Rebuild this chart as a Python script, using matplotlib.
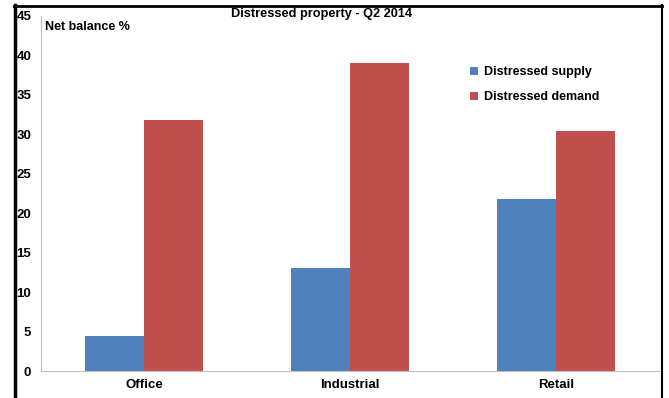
import matplotlib
matplotlib.use("Agg")
import matplotlib.pyplot as plt
import numpy as np
from matplotlib.lines import Line2D

plt.rcParams['font.family'] = ['Liberation Sans', 'DejaVu Sans']

categories = ['Office', 'Industrial', 'Retail']
supply = [4.4, 13.0, 21.8]
demand = [31.8, 39.1, 30.4]
yticks = [0, 5, 10, 15, 20, 25, 30, 35, 40, 45]

blue = '#4F81BD'
red = '#C0504D'

fig = plt.figure(figsize=(6.69, 3.98), dpi=100)
ax = fig.add_axes([41/669, 27/398, 618/669, 355/398])

x = np.arange(len(categories))
w = 0.284
ax.bar(x - w/2, supply, w, color=blue, label='Distressed supply')
ax.bar(x + w/2, demand, w, color=red, label='Distressed demand')

ax.set_xlim(-0.5, 2.5)
ax.set_ylim(0, 45)
ax.set_yticks(yticks)
ax.set_xticks(x)
ax.set_xticklabels(categories, fontsize=9.5, fontweight='bold')
ax.tick_params(axis='y', length=0, pad=7, labelsize=9.5)
ax.tick_params(axis='x', length=0, pad=6)
for t in ax.get_yticklabels():
    t.set_fontweight('bold')

for s in ['top', 'right']:
    ax.spines[s].set_visible(False)
ax.spines['left'].set_color('#BFBFBF')
ax.spines['bottom'].set_color('#BFBFBF')

ax.text(0.007, 0.985, 'Net balance %', transform=ax.transAxes, fontsize=9,
        fontweight='bold', va='top', ha='left')
fig.text(322/669, 1 - 14/398, 'Distressed property - Q2 2014', fontsize=9.2,
         fontweight='bold', ha='center', va='center')

ax.legend(loc='upper left', bbox_to_anchor=(0.676, 0.89), frameon=False,
          handlelength=0.6, handleheight=0.6, handletextpad=0.5,
          labelspacing=1.05, prop={'weight': 'bold', 'size': 9})

# outer frame
fig.add_artist(Line2D([15/669, 15/669], [0, 1 - 5/398], transform=fig.transFigure,
                      color='black', lw=2.5))
fig.add_artist(Line2D([14/669, 662/669], [1 - 5.5/398, 1 - 5.5/398],
                      transform=fig.transFigure, color='black', lw=2))
fig.add_artist(Line2D([661.5/669, 661.5/669], [0, 1 - 5/398], transform=fig.transFigure,
                      color='black', lw=1.5))

fig.savefig('out.png', dpi=100)
